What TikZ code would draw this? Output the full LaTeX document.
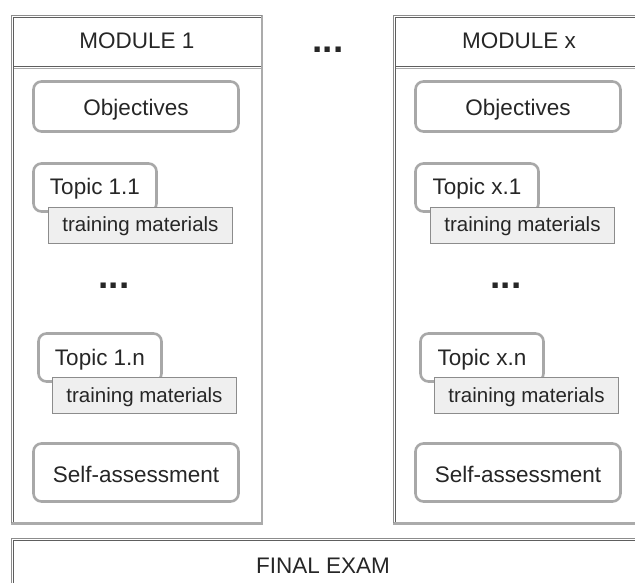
\documentclass[tikz,border=0pt]{standalone}
\usepackage{fontspec}
\setmainfont{Liberation Sans}
\usepackage{tikz}
\definecolor{crsInk}{HTML}{262626}
\definecolor{crsFrame}{HTML}{8C8C8C}
\definecolor{crsFrameDark}{HTML}{5E5E5E}
\definecolor{crsShade}{HTML}{ABABAB}
\definecolor{crsBox}{HTML}{A8A8A8}
\definecolor{crsMat}{HTML}{EFEFEF}

\begin{document}
\begin{tikzpicture}[x=1pt,y=-1pt,
    every node/.style={text=crsInk,inner sep=0pt},
    bigtxt/.style={font=\fontsize{22.5}{26}\selectfont},
    roundbox/.style={bigtxt,draw=crsBox,line width=2.6pt,rounded corners=8pt,
                     fill=white,minimum width=205pt,text height=23pt,text depth=4pt},
    topicbox/.style={draw=crsBox,line width=2.6pt,rounded corners=8pt,fill=white,
                     minimum width=123pt,minimum height=48pt},
    matbox/.style={draw=crsFrame,line width=0.8pt,fill=crsMat,
                   minimum width=184pt,minimum height=36pt,
                   text height=15pt,text depth=2pt,
                   font=\fontsize{20.5}{24}\selectfont},
    dotsep/.style={font=\bfseries\fontsize{37}{40}\selectfont}]
  \path[use as bounding box] (0,0) rectangle (635,583);
  \clip (0,0) rectangle (635,583);

  % the two module columns (\d = where the topic dots sit)
  \foreach \m/\o/\d in {1/0/114,x/382/506}{
    % frame: thin double line top/left, heavier shade bottom/right
    \draw[crsShade,line width=2.5pt] (\o+11,523.5) -| (\o+262,15);
    \draw[crsFrame,line width=0.8pt] (\o+11,523) |- (\o+262,15);
    \draw[crsFrameDark,line width=0.8pt] (\o+13.5,522) |- (\o+261,17.5);
    \draw[crsFrameDark,line width=0.8pt] (\o+13.5,66.5) -- (\o+261,66.5);
    \draw[crsShade,line width=0.6pt] (\o+13.5,68.2) -- (\o+261,68.2);

    \node[bigtxt,anchor=base] (mod-\m) at (\o+137,49) {MODULE \m};
    \node[roundbox,minimum height=50pt] (obj-\m) at (\o+136,106.5) {Objectives};

    \node[topicbox] (top-\m-1) at (\o+95,187.5) {};
    \node[bigtxt,anchor=base] at (\o+95,195) {Topic \m.1};
    \node[matbox] (mat-\m-1) at (\o+140.5,225.5) {training materials};

    \node[dotsep] (dots-\m) at (\d,285.5) {...};

    \node[topicbox] (top-\m-n) at (\o+100,357.5) {};
    \node[bigtxt,anchor=base] at (\o+100,365) {Topic \m.n};
    \node[matbox] (mat-\m-n) at (\o+144.5,395.5) {training materials};

    \node[roundbox,minimum height=58pt] (self-\m) at (\o+136,472.5) {Self-assessment};
  }

  \node[dotsep] (moddots) at (328,49.5) {...};

  % final exam strip along the bottom
  \draw[crsFrame,line width=0.8pt] (11,600) |- (650,538);
  \draw[crsFrameDark,line width=0.8pt] (13.5,600) |- (650,540.5);
  \node[bigtxt,anchor=base] (exam) at (323,573) {FINAL EXAM};
\end{tikzpicture}
\end{document}
